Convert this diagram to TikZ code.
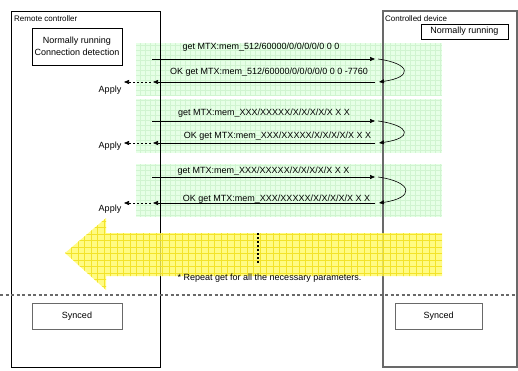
\documentclass[tikz,border=0pt]{standalone}
\usepackage{fontspec}
\setmainfont{Liberation Sans}
\usetikzlibrary{arrows.meta, calc}
\definecolor{MsgBg}{RGB}{230, 255, 230}
\definecolor{MsgGrid}{RGB}{208, 244, 208}
\definecolor{RepBg}{RGB}{255, 250, 100}
\definecolor{RepGrid}{RGB}{240, 222, 20}
\definecolor{DevLine}{RGB}{105, 105, 105}

\tikzset{
  msg/.style={-{Triangle[length=5pt, width=4pt]}, line width=0.6pt},
  apply/.style={msg, dash pattern=on 2pt off 2pt},
  msgtext/.style={font=\fontsize{9}{10}\selectfont, inner sep=0pt},
  tag/.style={font=\fontsize{8}{9}\selectfont, inner sep=0pt, anchor=west},
  statebox/.style={draw, line width=0.8pt, align=center, inner sep=0pt, font=\fontsize{9}{12}\selectfont},
  msgzone/.style={fill=MsgBg, path picture={\draw[MsgGrid, line width=0.4pt, step=5pt] (path picture bounding box.south west) grid (path picture bounding box.north east);}},
  repzone/.style={fill=RepBg, fill opacity=0.8, path picture={\draw[RepGrid, line width=0.5pt, draw opacity=0.8, step=6.5pt] (path picture bounding box.south west) grid (path picture bounding box.north east);}},
}

\begin{document}
\begin{tikzpicture}[x=1pt, y=-1pt]
        \useasboundingbox (0, 0) rectangle (518, 371);

        % message zones
        \path[msgzone] (136, 43) rectangle (442, 96);
        \path[msgzone] (136, 99) rectangle (442, 153);
        \path[msgzone] (136, 164) rectangle (442, 217);

        % Remote controller
        \draw[line width=0.8pt] (11, 11) rectangle (160, 367);
        \node[tag] (rctag) at (14, 19) {Remote controller};
        \node[statebox, minimum width=90pt, minimum height=37pt] (rcrun) at (77, 46.5) {Normally running\\Connection detection};
        \node[statebox, draw=DevLine, minimum width=90pt, minimum height=26pt] (rcsync) at (77, 316) {Synced};

        % Controlled device
        \draw[DevLine, line width=1.2pt] (383, 11) rectangle (517, 367);
        \node[tag] (cdtag) at (385, 19) {Controlled device};
        \node[statebox, minimum width=87pt, minimum height=15pt] (cdrun) at (464.5, 31.5) {Normally running};
        \node[statebox, draw=DevLine, minimum width=87pt, minimum height=26pt] (cdsync) at (438.5, 316) {Synced};

        % first get
        \coordinate (get1s) at (152, 59);
        \coordinate (get1e) at (375, 59);
        \coordinate (loop1s) at (378, 59);
        \coordinate (loop1e) at (379, 82);
        \coordinate (ok1s) at (375, 82);
        \coordinate (ok1e) at (153, 82);
        \coordinate (ap1s) at (151, 82);
        \coordinate (ap1e) at (124, 82);
        \draw[msg] (get1s) -- (get1e);
        \draw[msg] (loop1s) to[out=-8, in=8, distance=34pt] (loop1e);
        \draw[msg] (ok1s) -- (ok1e);
        \draw[apply] (ap1s) -- (ap1e);
        \node[msgtext] (get1) at (261, 47) {get MTX:mem\_512/60000/0/0/0/0/0 0 0};
        \node[msgtext] (ok1) at (269, 72) {OK get MTX:mem\_512/60000/0/0/0/0/0 0 0 -7760};
        \node[msgtext] (apply1) at (110, 90) {Apply};

        % second get
        \coordinate (get2s) at (152, 121);
        \coordinate (get2e) at (375, 121);
        \coordinate (loop2s) at (378, 121);
        \coordinate (loop2e) at (379, 143);
        \coordinate (ok2s) at (375, 143);
        \coordinate (ok2e) at (153, 143);
        \coordinate (ap2s) at (151, 143);
        \coordinate (ap2e) at (124, 143);
        \draw[msg] (get2s) -- (get2e);
        \draw[msg] (loop2s) to[out=-8, in=8, distance=34pt] (loop2e);
        \draw[msg] (ok2s) -- (ok2e);
        \draw[apply] (ap2s) -- (ap2e);
        \node[msgtext] (get2) at (264, 113) {get MTX:mem\_XXX/XXXXX/X/X/X/X/X X X};
        \node[msgtext] (ok2) at (277.5, 136) {OK get MTX:mem\_XXX/XXXXX/X/X/X/X/X X X};
        \node[msgtext] (apply2) at (110, 146) {Apply};

        % third get
        \coordinate (get3s) at (152, 177);
        \coordinate (get3e) at (375, 177);
        \coordinate (loop3s) at (378, 177);
        \coordinate (loop3e) at (379, 203);
        \coordinate (ok3s) at (375, 203);
        \coordinate (ok3e) at (153, 203);
        \coordinate (ap3s) at (151, 203);
        \coordinate (ap3e) at (124, 203);
        \draw[msg] (get3s) -- (get3e);
        \draw[msg] (loop3s) to[out=-8, in=8, distance=36pt] (loop3e);
        \draw[msg] (ok3s) -- (ok3e);
        \draw[apply] (ap3s) -- (ap3e);
        \node[msgtext] (get3) at (263.5, 171) {get MTX:mem\_XXX/XXXXX/X/X/X/X/X X X};
        \node[msgtext] (ok3) at (276.5, 199) {OK get MTX:mem\_XXX/XXXXX/X/X/X/X/X X X};
        \node[msgtext] (apply3) at (110, 209) {Apply};

        % repeat arrow
        \path[repzone] (65, 253) -- (106, 218) -- (106, 233) -- (442, 233)
            -- (442, 276) -- (106, 276) -- (106, 290) -- cycle;
        \draw[line width=2pt, dash pattern=on 2pt off 2pt] (258, 233) -- (258, 263);
        \node[msgtext] (repeat) at (269.5, 278) {* Repeat get for all the necessary parameters.};

        % sync line
        \draw[DevLine, line width=1.2pt, dash pattern=on 3pt off 2.5pt] (0, 295) -- (518, 295);
    \end{tikzpicture}
\end{document}
